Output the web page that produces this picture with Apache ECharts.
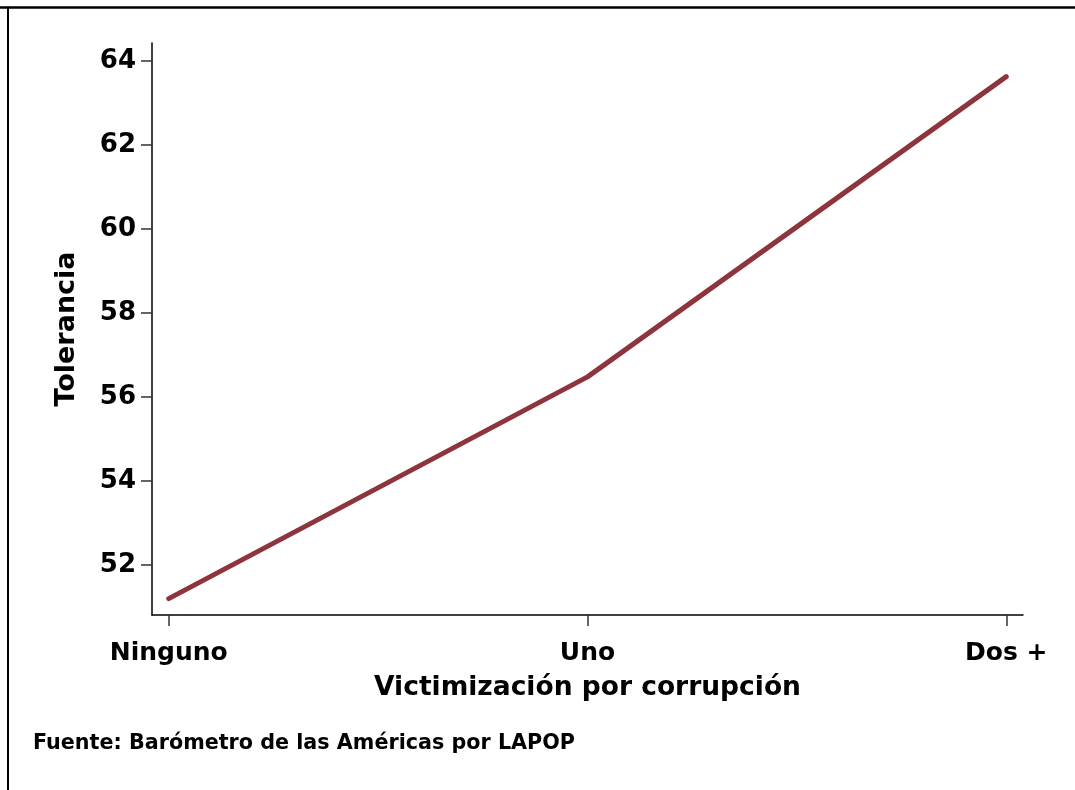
<!DOCTYPE html>
<html>
<head>
<meta charset="utf-8">
<script src="https://cdn.jsdelivr.net/npm/echarts@6/dist/echarts.min.js"></script>
<style>
  html, body { margin: 0; padding: 0; background: #fff; }
  #chart { width: 1075px; height: 790px; }
</style>
</head>
<body>
<div id="chart"></div>
<script>
    // categories on the x axis, placed at 0, 1, 2
    var categories = ['Ninguno', 'Uno', 'Dos +'];
    var tolerancia = [51.2, 56.48, 63.63];
    var yTicks = [52, 54, 56, 58, 60, 62, 64];

    var FONT = 'DejaVu Sans';
    var chart = echarts.init(document.getElementById('chart'));

    var points = categories.map(function (c, i) { return [i, tolerancia[i]]; });

    var option = {
        backgroundColor: '#fff',
        animation: false,
        grid: { left: 152, right: 52, top: 43, bottom: 175 },
        xAxis: {
            type: 'value',
            min: -0.04,
            max: 2.04,
            name: 'Victimización por corrupción',
            nameLocation: 'middle',
            nameGap: 60,
            nameTextStyle: { fontFamily: FONT, fontWeight: 'bold', fontSize: 26.5, color: '#000' },
            splitLine: { show: false },
            axisLine: { show: true, onZero: false, lineStyle: { color: '#000', width: 1.5 } },
            axisTick: { show: true, customValues: [0, 1, 2], length: 11, lineStyle: { color: '#333', width: 1.5 } },
            axisLabel: {
                customValues: [0, 1, 2],
                margin: 26,
                fontFamily: FONT, fontWeight: 'bold', fontSize: 25, color: '#000',
                formatter: function (v) { return categories[Math.round(v)]; }
            }
        },
        yAxis: {
            type: 'value',
            min: 50.81,
            max: 64.43,
            name: 'Tolerancia',
            nameLocation: 'middle',
            nameGap: 72,
            nameTextStyle: { fontFamily: FONT, fontWeight: 'bold', fontSize: 27, color: '#000' },
            splitLine: { show: false },
            axisLine: { show: true, onZero: false, lineStyle: { color: '#000', width: 1.5 } },
            axisTick: { show: true, customValues: yTicks, length: 11, lineStyle: { color: '#333', width: 1.5 } },
            axisLabel: {
                customValues: yTicks,
                margin: 16,
                fontFamily: FONT, fontWeight: 'bold', fontSize: 26, color: '#000'
            }
        },
        series: [{
            type: 'line',
            data: points,
            symbol: 'none',
            lineStyle: { color: '#8e343d', width: 5, cap: 'round', join: 'round' }
        }],
        graphic: [
            { type: 'line', shape: { x1: 0, y1: 7.5, x2: 1075, y2: 7.5 }, style: { stroke: '#000', lineWidth: 2.5 } },
            { type: 'line', shape: { x1: 8, y1: 6.5, x2: 8, y2: 790 }, style: { stroke: '#000', lineWidth: 2 } },
            {
                type: 'text', left: 33, top: 733,
                style: { text: 'Fuente: Barómetro de las Américas por LAPOP', font: 'bold 20.7px "DejaVu Sans"', fill: '#000' }
            }
        ]
    };

    chart.setOption(option);
</script>
</body>
</html>
